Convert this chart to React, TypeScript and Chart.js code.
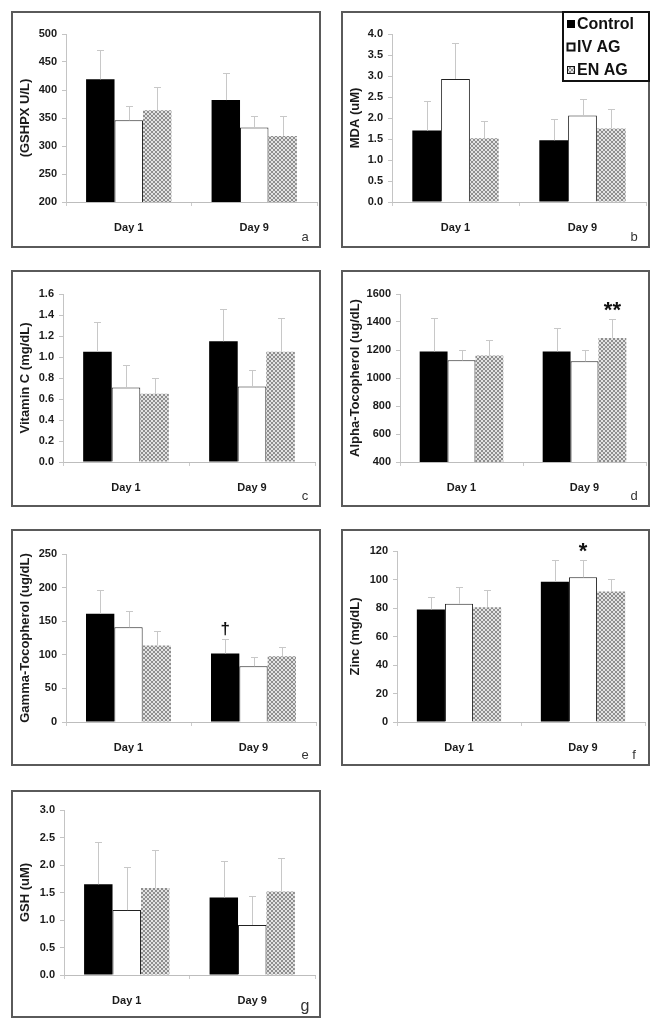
import React, { useEffect, useRef } from "react";
import { Chart, registerables } from "chart.js";
Chart.register(...registerables);

// ---------- DATA ----------
const categories = ["Day 1", "Day 9"];
const seriesNames = ["Control", "IV AG", "EN AG"];

// a: GSHPX
const gshpxControl = [419, 382];
const gshpxIV = [346, 333];
const gshpxEN = [364, 318];
const gshpxControlSD = [52, 48];
const gshpxIVSD = [25, 21];
const gshpxENSD = [41, 36];
const gshpxTicks = [200, 250, 300, 350, 400, 450, 500];

// b: MDA
const mdaControl = [1.7, 1.47];
const mdaIV = [2.93, 2.06];
const mdaEN = [1.52, 1.75];
const mdaControlSD = [0.7, 0.51];
const mdaIVSD = [0.86, 0.39];
const mdaENSD = [0.42, 0.46];
const mdaTicks = [0, 0.5, 1.0, 1.5, 2.0, 2.5, 3.0, 3.5, 4.0];

// c: Vitamin C
const vitcControl = [1.05, 1.15];
const vitcIV = [0.71, 0.72];
const vitcEN = [0.65, 1.05];
const vitcControlSD = [0.28, 0.31];
const vitcIVSD = [0.21, 0.16];
const vitcENSD = [0.15, 0.32];
const vitcTicks = [0, 0.2, 0.4, 0.6, 0.8, 1.0, 1.2, 1.4, 1.6];

// d: Alpha-Tocopherol
const alphaControl = [1190, 1190];
const alphaIV = [1126, 1119];
const alphaEN = [1160, 1286];
const alphaControlSD = [239, 167];
const alphaIVSD = [76, 83];
const alphaENSD = [114, 135];
const alphaTicks = [400, 600, 800, 1000, 1200, 1400, 1600];

// e: Gamma-Tocopherol
const gammaControl = [161, 102];
const gammaIV = [141, 83];
const gammaEN = [114, 98];
const gammaControlSD = [35, 21];
const gammaIVSD = [24, 14];
const gammaENSD = [22, 14];
const gammaTicks = [0, 50, 100, 150, 200, 250];

// f: Zinc
const zincControl = [79, 98.5];
const zincIV = [83, 101.5];
const zincEN = [80.5, 91.5];
const zincControlSD = [8.5, 15];
const zincIVSD = [11.5, 12];
const zincENSD = [12, 8.5];
const zincTicks = [0, 20, 40, 60, 80, 100, 120];

// g: GSH
const gshControl = [1.65, 1.41];
const gshIV = [1.18, 0.91];
const gshEN = [1.58, 1.52];
const gshControlSD = [0.77, 0.67];
const gshIVSD = [0.79, 0.53];
const gshENSD = [0.69, 0.6];
const gshTicks = [0, 0.5, 1.0, 1.5, 2.0, 2.5, 3.0];

// significance marks: [series index, category index, text]
const alphaMarks = [[2, 1, "**"]];
const gammaMarks = [[0, 1, "\u2020"]];
const zincMarks = [[1, 1, "*"]];

// ---------- LAYOUT ----------
const FONT = "'Liberation Sans', Arial, sans-serif";

type Box = { x: number; y: number; w: number; h: number };
type Plot = { left: number; right: number; top: number; bottom: number };

const panels = [
  {
    letter: "a", title: "(GSHPX U/L)", ticks: gshpxTicks, dec: 0,
    values: [gshpxControl, gshpxIV, gshpxEN], sds: [gshpxControlSD, gshpxIVSD, gshpxENSD], marks: [],
    frame: { x: 11, y: 11, w: 310, h: 237 }, plot: { left: 66, right: 317, top: 34, bottom: 202 }, legend: false,
  },
  {
    letter: "b", title: "MDA (uM)", ticks: mdaTicks, dec: 1,
    values: [mdaControl, mdaIV, mdaEN], sds: [mdaControlSD, mdaIVSD, mdaENSD], marks: [],
    frame: { x: 341, y: 11, w: 309, h: 237 }, plot: { left: 392, right: 646, top: 34, bottom: 202 }, legend: true,
  },
  {
    letter: "c", title: "Vitamin C (mg/dL)", ticks: vitcTicks, dec: 1,
    values: [vitcControl, vitcIV, vitcEN], sds: [vitcControlSD, vitcIVSD, vitcENSD], marks: [],
    frame: { x: 11, y: 270, w: 310, h: 237 }, plot: { left: 63, right: 315, top: 294, bottom: 462 }, legend: false,
  },
  {
    letter: "d", title: "Alpha-Tocopherol (ug/dL)", ticks: alphaTicks, dec: 0,
    values: [alphaControl, alphaIV, alphaEN], sds: [alphaControlSD, alphaIVSD, alphaENSD], marks: alphaMarks,
    frame: { x: 341, y: 270, w: 309, h: 237 }, plot: { left: 400, right: 646, top: 294, bottom: 462 }, legend: false,
  },
  {
    letter: "e", title: "Gamma-Tocopherol (ug/dL)", ticks: gammaTicks, dec: 0,
    values: [gammaControl, gammaIV, gammaEN], sds: [gammaControlSD, gammaIVSD, gammaENSD], marks: gammaMarks,
    frame: { x: 11, y: 529, w: 310, h: 237 }, plot: { left: 66, right: 316, top: 554, bottom: 722 }, legend: false,
  },
  {
    letter: "f", title: "Zinc (mg/dL)", ticks: zincTicks, dec: 0,
    values: [zincControl, zincIV, zincEN], sds: [zincControlSD, zincIVSD, zincENSD], marks: zincMarks,
    frame: { x: 341, y: 529, w: 309, h: 237 }, plot: { left: 397, right: 645, top: 551, bottom: 722 }, legend: false,
  },
  {
    letter: "g", title: "GSH (uM)", ticks: gshTicks, dec: 1,
    values: [gshControl, gshIV, gshEN], sds: [gshControlSD, gshIVSD, gshENSD], marks: [],
    frame: { x: 11, y: 790, w: 310, h: 228 }, plot: { left: 64, right: 315, top: 810, bottom: 975 }, legend: false,
  },
];

function makePattern(): CanvasPattern | string {
  const c = document.createElement("canvas");
  c.width = 4;
  c.height = 4;
  const ctx = c.getContext("2d");
  if (!ctx) return "#aaa";
  ctx.fillStyle = "#e2e2e2";
  ctx.fillRect(0, 0, 4, 4);
  ctx.fillStyle = "#8e8e8e";
  ctx.fillRect(0, 0, 2, 2);
  ctx.fillRect(2, 2, 2, 2);
  const p = ctx.createPattern(c, "repeat");
  return p || "#aaa";
}

function Panel({ p }: { p: any }) {
  const ref = useRef<HTMLCanvasElement>(null);
  const frame: Box = p.frame;
  const plot: Plot = p.plot;

  useEffect(() => {
    const canvas = ref.current;
    if (!canvas) return;
    const pattern = makePattern();
    const fills: any[] = ["#000000", "#ffffff", pattern];
    const borders = ["#000000", "#222222", "rgba(0,0,0,0)"];
    const bw: any[] = [0, { top: 1, left: 1, right: 1, bottom: 0 }, 0];
    const ticks: number[] = p.ticks;
    const yMin = ticks[0];
    const yMax = ticks[ticks.length - 1];
    const step = ticks[1] - ticks[0];
    const yW = plot.left - frame.x;
    const xH = frame.y + frame.h - plot.bottom;

    const panelPlugin = {
      id: "panelDeco",
      afterDatasetsDraw(chart: any) {
        const ctx = chart.ctx;
        const yScale = chart.scales.y;
        ctx.save();
        // error bars
        ctx.strokeStyle = "#c8c8c8";
        ctx.lineWidth = 1;
        p.values.forEach((vals: number[], si: number) => {
          const meta = chart.getDatasetMeta(si);
          vals.forEach((v: number, ci: number) => {
            const el = meta.data[ci];
            const top = yScale.getPixelForValue(v + p.sds[si][ci]);
            const x = Math.round(el.x) + 0.5;
            ctx.beginPath();
            ctx.moveTo(x, el.y);
            ctx.lineTo(x, Math.round(top) + 0.5);
            ctx.moveTo(x - 3.5, Math.round(top) + 0.5);
            ctx.lineTo(x + 3.5, Math.round(top) + 0.5);
            ctx.stroke();
          });
        });
        // significance marks
        ctx.fillStyle = "#111";
        ctx.textAlign = "center";
        ctx.textBaseline = "alphabetic";
        p.marks.forEach((m: any[]) => {
          const [si, ci, txt] = m;
          const el = chart.getDatasetMeta(si).data[ci];
          const top = yScale.getPixelForValue(p.values[si][ci] + p.sds[si][ci]);
          if (txt === "\u2020") {
            ctx.font = "bold 17px " + FONT;
            ctx.fillText(txt, el.x, top - 5);
          } else {
            ctx.font = "bold 22px " + FONT;
            ctx.fillText(txt, el.x, top - 2);
          }
        });
        ctx.restore();
      },
      afterDraw(chart: any) {
        const ctx = chart.ctx;
        ctx.save();
        // frame
        ctx.strokeStyle = "#5a5a5a";
        ctx.lineWidth = 2;
        ctx.strokeRect(1, 1, frame.w - 2, frame.h - 2);
        // panel letter
        ctx.fillStyle = "#333";
        ctx.font = (p.letter === "g" ? "16px " : "13px ") + FONT;
        ctx.textAlign = "center";
        ctx.textBaseline = "alphabetic";
        ctx.fillText(p.letter, frame.w - 16, frame.h - 7);
        // legend
        if (p.legend) {
          const lx = 222, ly = 1, lw = 86, lh = 69;
          ctx.fillStyle = "#fff";
          ctx.fillRect(lx, ly, lw, lh);
          ctx.strokeStyle = "#111";
          ctx.lineWidth = 2;
          ctx.strokeRect(lx, ly, lw, lh);
          chart.data.datasets.forEach((ds: any, i: number) => {
            const cy = 13 + i * 23;
            ctx.fillStyle = ds.backgroundColor;
            ctx.fillRect(226, cy - 4, 8, 8);
            if (i > 0) {
              ctx.strokeStyle = "#111";
              ctx.lineWidth = i === 1 ? 2 : 1;
              ctx.strokeRect(226.5, cy - 3.5, 7, 7);
            }
            ctx.fillStyle = "#111";
            ctx.font = "bold 16px " + FONT;
            ctx.textAlign = "left";
            ctx.textBaseline = "middle";
            ctx.fillText(ds.label, 236, cy + 1);
          });
        }
        ctx.restore();
      },
    };

    const chart = new Chart(canvas, {
      type: "bar",
      data: {
        labels: categories,
        datasets: p.values.map((vals: number[], i: number) => ({
          label: seriesNames[i],
          data: vals,
          backgroundColor: fills[i],
          borderColor: borders[i],
          borderWidth: bw[i],
          borderSkipped: false,
          categoryPercentage: 0.68,
          barPercentage: 1.0,
        })),
      },
      options: {
        responsive: false,
        animation: false,
        devicePixelRatio: 1,
        layout: {
          padding: {
            top: plot.top - frame.y,
            right: frame.x + frame.w - plot.right,
            bottom: 0,
            left: 0,
          },
        },
        plugins: {
          legend: { display: false },
          tooltip: { enabled: false },
        },
        scales: {
          x: {
            type: "category",
            offset: true,
            grid: {
              display: true,
              drawOnChartArea: false,
              tickLength: 4,
              color: "#cccccc",
              offset: true,
            },
            border: { display: true, color: "#bdbdbd", width: 1 },
            ticks: {
              color: "#1a1a1a",
              font: { family: FONT, size: 11, weight: "bold" },
              padding: 15,
            },
            afterFit: (s: any) => {
              s.height = xH;
            },
          },
          y: {
            min: yMin,
            max: yMax,
            grid: {
              display: true,
              drawOnChartArea: false,
              tickLength: 4,
              color: "#c4c4c4",
            },
            border: { display: true, color: "#c4c4c4", width: 1 },
            ticks: {
              stepSize: step,
              color: "#1a1a1a",
              font: { family: FONT, size: 11, weight: "bold" },
              padding: 5,
              callback: (v: any) => Number(v).toFixed(p.dec),
            },
            title: {
              display: true,
              text: p.title,
              color: "#1a1a1a",
              font: { family: FONT, size: 13, weight: "bold" },
              padding: { top: 7, bottom: 0 },
            },
            afterFit: (s: any) => {
              s.width = yW;
            },
          },
        },
      },
      plugins: [panelPlugin],
    } as any);
    return () => chart.destroy();
  }, []);

  return (
    <canvas
      ref={ref}
      width={frame.w}
      height={frame.h}
      style={{ position: "absolute", left: frame.x, top: frame.y, width: frame.w, height: frame.h }}
    />
  );
}

export default function App() {
  return (
    <div style={{ position: "absolute", left: 0, top: 0, width: 662, height: 1029, background: "#fff" }}>
      {panels.map((p) => (
        <Panel key={p.letter} p={p} />
      ))}
    </div>
  );
}
